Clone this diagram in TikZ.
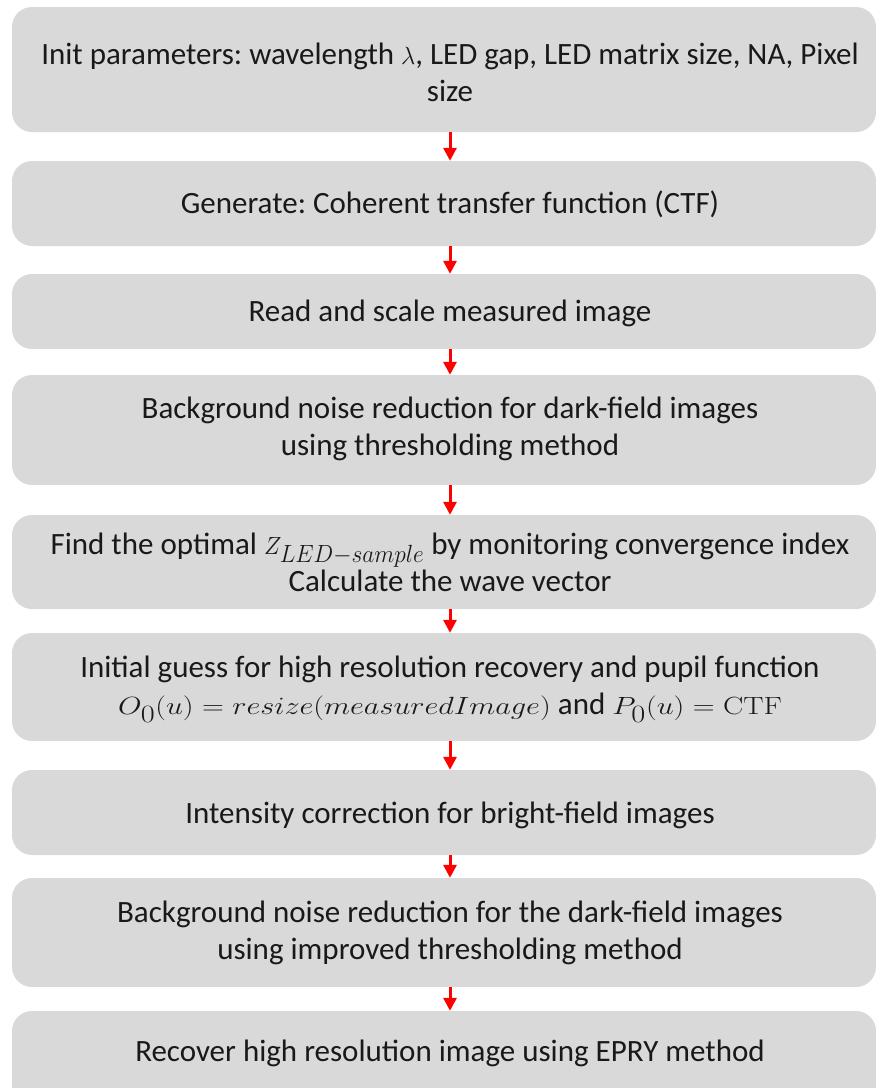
\documentclass[tikz,border=0pt]{standalone}
\usepackage{graphicx}
\usepackage[no-math]{fontspec}
\setmainfont{Carlito}
\usetikzlibrary{arrows.meta}
\definecolor{boxgray}{HTML}{D9D9D9}
\definecolor{flowred}{HTML}{FF0000}
\frenchspacing
% inline formulas set a little wider than the text face
\newcommand\widemath[2][1.22]{\scalebox{#1}[1]{\fontsize{33}{37}\selectfont$#2$}}
\tikzset{
  stepbox/.style={fill=boxgray, draw=none, rounded corners=20pt, minimum width=864pt, inner sep=0pt},
  steptext/.style={align=center, inner sep=0pt, text=black!90, font=\fontsize{31}{37}\selectfont},
  flow/.style={draw=flowred, line width=3pt, -{Triangle[width=13pt,length=13pt]}}
}
\begin{document}
\begin{tikzpicture}[x=1pt, y=-1pt]
\useasboundingbox (0,0) rectangle (876,1088);
\clip (0,0) rectangle (876,1088);

% step boxes
\node[stepbox, minimum height=125pt] (b1) at (444,69.5) {};
\node[stepbox, minimum height=85pt]  (b2) at (444,203.5) {};
\node[stepbox, minimum height=75pt]  (b3) at (444,311.5) {};
\node[stepbox, minimum height=110pt] (b4) at (444,430) {};
\node[stepbox, minimum height=94pt]  (b5) at (444,562) {};
\node[stepbox, minimum height=108pt] (b6) at (444,687) {};
\node[stepbox, minimum height=85pt]  (b7) at (444,812.5) {};
\node[stepbox, minimum height=109pt] (b8) at (444,932.5) {};
\node[stepbox, minimum height=99pt]  (b9) at (444,1060.5) {};

% step labels
\node[steptext] (t1) at (450,72) {Init parameters: wavelength $\lambda$, LED gap, LED matrix size, NA, Pixel\\size};
\node[steptext] (t2) at (450,204) {Generate: Coherent transfer function (CTF)};
\node[steptext] (t3) at (450,313) {Read and scale measured image};
\node[steptext] (t4) at (450,429) {Background noise reduction for dark-field images\\using thresholding method};
\node[steptext] (t5) at (450,562) {Find the optimal \widemath[0.94]{Z_{LED-sample}} by monitoring convergence index\\Calculate the wave vector};
\node[steptext] (t6) at (450,689) {Initial guess for high resolution recovery and pupil function\\\widemath{O_0(u) = resize(measuredImage)} and \widemath{P_0(u) = \mathrm{CTF}}};
\node[steptext] (t7) at (450,815) {Intensity correction for bright-field images};
\node[steptext] (t8) at (450,933) {Background noise reduction for the dark-field images\\using improved thresholding method};
\node[steptext] (t9) at (450,1053) {Recover high resolution image using EPRY method};

% connectors
\foreach \a/\b in {b1/b2, b2/b3, b3/b4, b4/b5, b5/b6, b6/b7, b7/b8, b8/b9}
  \draw[flow] ([xshift=6pt]\a.south) -- ([xshift=6pt]\b.north);
\end{tikzpicture}
\end{document}
